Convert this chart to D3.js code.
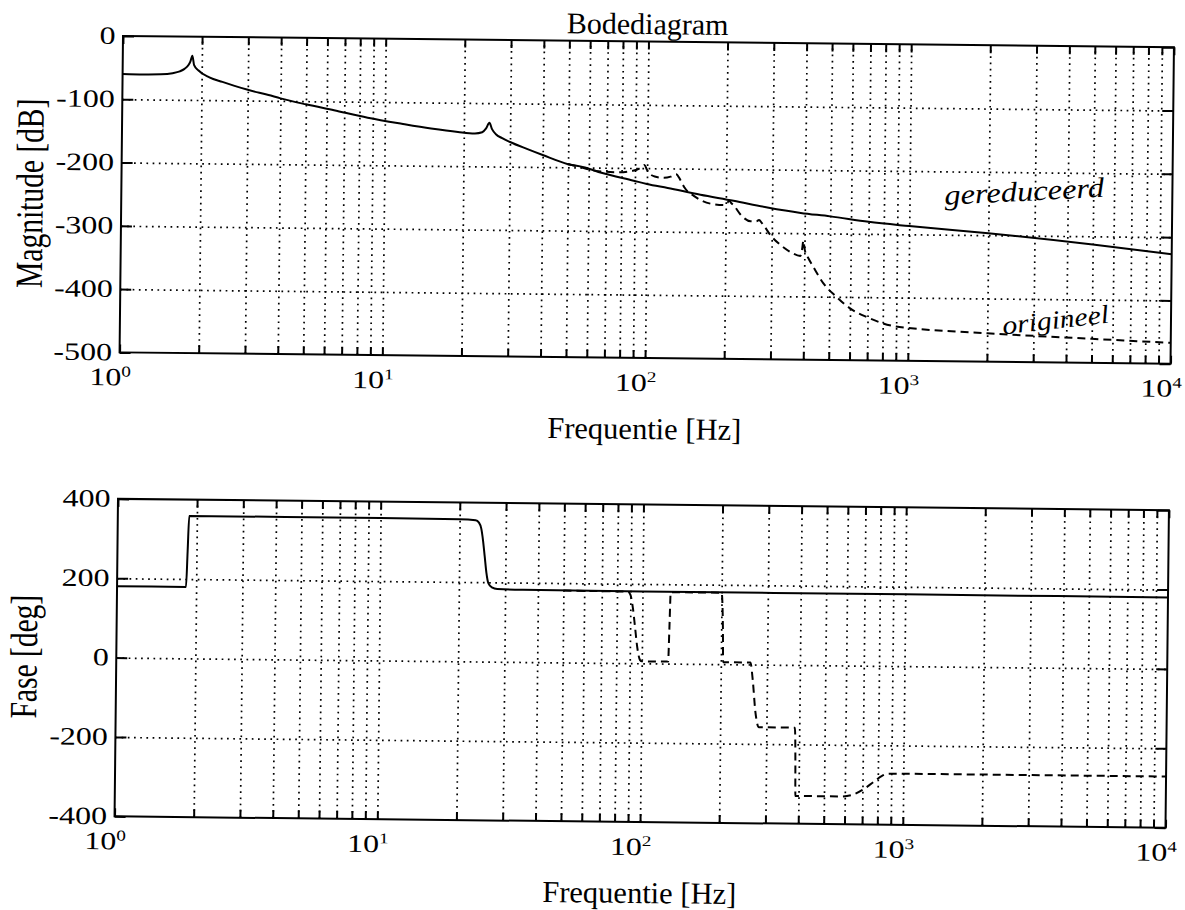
<!DOCTYPE html>
<html>
<head>
<meta charset="utf-8">
<script src="https://cdn.jsdelivr.net/npm/d3@7"></script>
<style>
  body { margin: 0; background: #fff; }
  svg { display: block; }
</style>
</head>
<body>
<svg id="chart" width="1185" height="910"></svg>
<script>
// ---- data -------------------------------------------------------------
// reduced model, magnitude [dB]
const reducedMagFreq = [1, 1.2, 1.4, 1.55, 1.65, 1.72, 1.78, 1.81, 1.84, 1.87, 1.94, 2.14, 2.4, 2.67, 3.0, 3.6, 4.0, 5.0, 6.4, 8.6, 11.6, 15, 19, 22, 23.5, 24.3, 25, 25.6, 26.5, 28, 30, 35, 40, 50, 58, 67, 89, 100, 120, 160, 214, 288, 386, 500, 700, 1000, 2000, 5000, 10000];
const reducedMagDb   = [-60, -60.5, -60, -58, -55, -51, -45, -39, -30, -45, -53, -64, -71, -77, -83, -91, -96, -105, -114, -125, -134, -141, -146, -148, -146, -140, -131, -141, -149, -155, -161, -172, -181, -195, -200, -208, -220, -225, -231, -241, -250, -260, -268, -273, -281, -287, -297, -313, -327];

// original model, magnitude [dB] (coincides with the reduced one below 50 Hz)
const originalMagFreq = [50, 55, 60, 67, 77, 89, 94, 97.7, 100, 102, 107, 116, 123, 129, 134, 139, 151, 161, 175, 197, 203, 206, 210, 215, 228, 249, 262, 268, 275, 280, 297, 324, 354, 386, 392, 396, 401, 415, 433, 474, 532, 600, 700, 800, 900, 1000, 2000, 5000, 10000];
const originalMagDb   = [-195, -199, -203, -206, -207, -204, -200, -195, -203, -208, -213, -215, -213, -209, -218, -230, -243, -250, -255, -257, -253, -250, -254, -258, -272, -282, -282, -280, -285, -289, -304, -319, -330, -336, -325, -312, -326, -340, -353, -379, -400, -418, -432, -441, -446, -448, -455, -462, -467];

// reduced model, phase [deg]
const reducedPhaseFreq = [1, 1.83, 1.85, 1.87, 10, 20, 23, 23.7, 24.2, 24.6, 25, 25.4, 25.9, 26.7, 28, 35, 100, 1000, 10000];
const reducedPhaseDeg  = [180, 180, 270, 359, 359, 358, 356, 350, 335, 305, 265, 225, 197, 187, 183, 182, 181, 181, 180];

// original model, phase [deg] (coincides with the reduced one below 50 Hz)
const originalPhaseFreq = [50, 88, 90, 92, 94, 96, 98.5, 100, 126, 127, 128, 200, 203, 204, 259, 265, 272, 281, 385, 388, 389, 583, 640, 700, 770, 830, 870, 1000, 10000];
const originalPhaseDeg  = [181, 180, 172, 140, 90, 40, 8, 5, 5, 90, 180, 180, 90, 5, 5, -40, -120, -158, -158, -250, -330, -330, -326, -313, -293, -277, -272, -271, -271];

// axis ticks and labels
const magTicks = [0, -100, -200, -300, -400, -500];
const phaseTicks = [400, 200, 0, -200, -400];
const decades = [1, 10, 100, 1000, 10000];
const decadeExponents = ["0", "1", "2", "3", "4"];

// ---- layout -------------------------------------------------------------
const left = 118.5, right = 1169.5;
const magTop = 41, magBottom = 357.5;
const phTop = 504, phBottom = 821.5;
const serif = "'Liberation Serif', 'Times New Roman', serif";

const svg = d3.select("#chart");
svg.append("rect").attr("width", 1185).attr("height", 910).attr("fill", "#fff");

// the whole sheet sits at a slight tilt
const root = svg.append("g").attr("transform", "rotate(0.62, 592, 455)");

const x = d3.scaleLog().domain([1, 1e4]).range([left, right]);
const yMag = d3.scaleLinear().domain([-500, 0]).range([magBottom, magTop]);
const yPh = d3.scaleLinear().domain([-400, 400]).range([phBottom, phTop]);
const xTicks = x.ticks();

function panel(y, yTicks, top, bottom) {
  const g = root.append("g");
  const dotted = s => s.selectAll("line").attr("stroke", "#000")
    .attr("stroke-width", 1.7).attr("stroke-dasharray", "1.7,4.5");
  // dotted grid
  g.append("g").attr("transform", `translate(0,${bottom})`)
    .call(d3.axisBottom(x).tickValues(xTicks.filter(v => v > 1 && v < 1e4))
      .tickSize(-(bottom - top)).tickFormat(""))
    .call(s => s.select(".domain").remove())
    .call(dotted);
  g.append("g").attr("transform", `translate(${left},0)`)
    .call(d3.axisLeft(y).tickValues(yTicks.filter(v => v !== y.domain()[0] && v !== y.domain()[1]))
      .tickSize(-(right - left)).tickFormat(""))
    .call(s => s.select(".domain").remove())
    .call(dotted);
  // tick marks on all four sides, pointing inwards
  const tickStyle = s => {
    s.select(".domain").remove();
    s.selectAll("line").attr("stroke", "#000").attr("stroke-width", 2);
  };
  g.append("g").attr("transform", `translate(0,${bottom})`)
    .call(d3.axisBottom(x).tickValues(xTicks).tickSize(-8).tickSizeOuter(0).tickFormat("")).call(tickStyle);
  g.append("g").attr("transform", `translate(0,${top})`)
    .call(d3.axisTop(x).tickValues(xTicks).tickSize(-8).tickSizeOuter(0).tickFormat("")).call(tickStyle);
  g.append("g").attr("transform", `translate(${left},0)`)
    .call(d3.axisLeft(y).tickValues(yTicks).tickSize(-11).tickSizeOuter(0).tickFormat("")).call(tickStyle);
  g.append("g").attr("transform", `translate(${right},0)`)
    .call(d3.axisRight(y).tickValues(yTicks).tickSize(-11).tickSizeOuter(0).tickFormat("")).call(tickStyle);
  // frame
  g.append("rect").attr("x", left).attr("y", top)
    .attr("width", right - left).attr("height", bottom - top)
    .attr("fill", "none").attr("stroke", "#000").attr("stroke-width", 2);
  // y tick labels
  yTicks.forEach(v => {
    g.append("text")
      .attr("transform", `translate(${left - 7.5},${y(v) + 8}) scale(1.28,1)`)
      .attr("text-anchor", "end")
      .attr("font-family", serif).attr("font-size", 25).attr("fill", "#000")
      .text(String(v));
  });
  // x tick labels 10^n
  decades.forEach((d, i) => {
    const t = g.append("text")
      .attr("transform", `translate(${x(d) - 30},${bottom + 33}) scale(1.28,1)`)
      .attr("font-family", serif).attr("font-size", 25).attr("fill", "#000");
    t.append("tspan").text("10");
    t.append("tspan").attr("font-size", 15).attr("dy", -9).text(decadeExponents[i]);
  });
  // x axis title
  g.append("text").attr("x", (left + right) / 2).attr("y", bottom + 81)
    .attr("text-anchor", "middle").attr("font-family", serif).attr("font-size", 30.5)
    .attr("fill", "#000").text("Frequentie [Hz]");
  return g;
}

const gMag = panel(yMag, magTicks, magTop, magBottom);
const gPh = panel(yPh, phaseTicks, phTop, phBottom);

// title and y axis titles
root.append("text").attr("x", 643).attr("y", 33.5).attr("text-anchor", "middle")
  .attr("font-family", serif).attr("font-size", 30).attr("fill", "#000").text("Bodediagram");
root.append("text").attr("transform", `translate(40,${(magTop + magBottom) / 2}) rotate(-90) scale(1,1.3)`)
  .attr("text-anchor", "middle").attr("font-family", serif).attr("font-size", 29.5)
  .attr("fill", "#000").text("Magnitude [dB]");
root.append("text").attr("transform", `translate(39,${(phTop + phBottom) / 2}) rotate(-90) scale(1,1.3)`)
  .attr("text-anchor", "middle").attr("font-family", serif).attr("font-size", 29.5)
  .attr("fill", "#000").text("Fase [deg]");

// curves
function curve(g, xs, ys, y, dashed) {
  const pts = xs.map((f, i) => [f, ys[i]]);
  const line = d3.line().x(d => x(d[0])).y(d => y(d[1])).curve(d3.curveMonotoneX);
  g.append("path").attr("d", line(pts)).attr("fill", "none").attr("stroke", "#000")
    .attr("stroke-width", 2).attr("stroke-linejoin", "round")
    .attr("stroke-dasharray", dashed ? "8,5" : null);
}
curve(gMag, originalMagFreq, originalMagDb, yMag, true);
curve(gMag, reducedMagFreq, reducedMagDb, yMag, false);
curve(gPh, originalPhaseFreq, originalPhaseDeg, yPh, true);
curve(gPh, reducedPhaseFreq, reducedPhaseDeg, yPh, false);

// hand-written curve names
const hand = "'Liberation Serif', serif";
gMag.append("text").attr("transform", "translate(942,201) rotate(-3.5)")
  .attr("font-family", hand).attr("font-style", "italic").attr("font-size", 28)
  .attr("textLength", 160).attr("lengthAdjust", "spacingAndGlyphs")
  .attr("fill", "#000").text("gereduceerd");
gMag.append("text").attr("transform", "translate(1002,330) rotate(-7)")
  .attr("font-family", hand).attr("font-style", "italic").attr("font-size", 26)
  .attr("textLength", 107).attr("lengthAdjust", "spacingAndGlyphs")
  .attr("fill", "#000").text("origineel");
</script>
</body>
</html>
